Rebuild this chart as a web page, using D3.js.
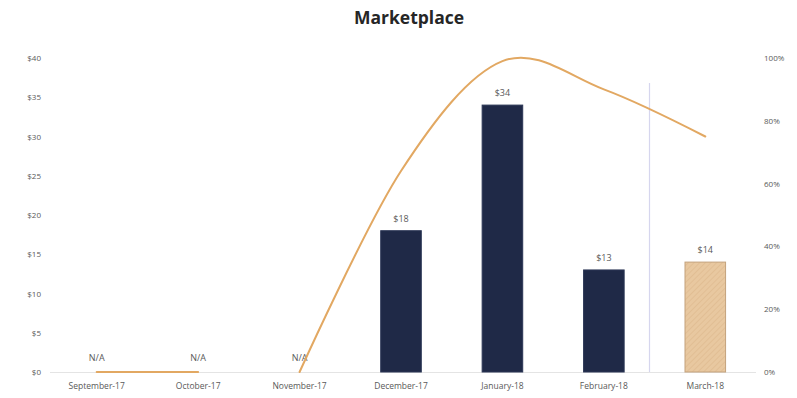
<!DOCTYPE html>
<html>
<head>
<meta charset="utf-8">
<script src="https://cdn.jsdelivr.net/npm/d3@7"></script>
<style>
  html, body { margin: 0; padding: 0; background: #fff; }
  svg { display: block; }
</style>
</head>
<body>
<svg id="chart" width="797" height="398"></svg>
<script>
// Monthly marketplace revenue ($) with share-of-target line (%)
const months = ["September-17", "October-17", "November-17", "December-17", "January-18", "February-18", "March-18"];
const revenue = [null, null, null, 18, 34, 13, 14];
const revenueLabels = ["N/A", "N/A", "N/A", "$18", "$34", "$13", "$14"];
const forecastMonths = ["March-18"];
// percentage line, drawn in two runs (the run breaks after October)
const shareEarly = [0, 0, null, null, null, null, null];
const shareLate = [null, null, 0, 64, 99, 90, 75];
const leftTicks = [0, 5, 10, 15, 20, 25, 30, 35, 40];
const rightTicks = [0, 20, 40, 60, 80, 100];

const svg = d3.select("#chart");
const W = 797, H = 398;
const m = { top: 58, right: 41, bottom: 26, left: 46 };
const innerBottom = H - m.bottom;

const x = d3.scaleBand().domain(months).range([m.left, W - m.right]).paddingInner(0.6).paddingOuter(0.3);
const yL = d3.scaleLinear().domain([0, 40]).range([innerBottom, m.top]);
const yR = d3.scaleLinear().domain([0, 100]).range([innerBottom, m.top]);

const font = "'Open Sans', sans-serif";
const grey = "#595959";

// hatch fill for forecast bar
const defs = svg.append("defs");
const pat = defs.append("pattern").attr("id", "hatch").attr("patternUnits", "userSpaceOnUse")
  .attr("width", 4).attr("height", 4).attr("patternTransform", "rotate(45)");
pat.append("rect").attr("width", 4).attr("height", 4).attr("fill", "#e8c8a0");
pat.append("line").attr("x1", 0).attr("y1", 0).attr("x2", 0).attr("y2", 4)
  .attr("stroke", "#dbb78a").attr("stroke-width", 1.1);

// title
svg.append("text").attr("x", 409).attr("y", 24).attr("text-anchor", "middle")
  .attr("font-family", font).attr("font-weight", 700).attr("font-size", 17.5).attr("fill", "#262626")
  .text("Marketplace");

// left axis
const axL = d3.axisLeft(yL).tickValues(leftTicks).tickSize(0).tickPadding(5).tickFormat(d => "$" + d);
const gL = svg.append("g").attr("transform", `translate(${m.left},0)`).call(axL);
gL.select(".domain").remove();
gL.selectAll("text").attr("font-family", font).attr("font-size", 8).attr("fill", grey);

// right axis
const axR = d3.axisRight(yR).tickValues(rightTicks).tickSize(0).tickPadding(9).tickFormat(d => d + "%");
const gR = svg.append("g").attr("transform", `translate(${W - m.right - 1},0)`).call(axR);
gR.select(".domain").remove();
gR.selectAll("text").attr("font-family", font).attr("font-size", 8).attr("fill", grey);

// baseline
svg.append("line").attr("x1", m.left + 4).attr("x2", W - m.right).attr("y1", innerBottom + 0.5).attr("y2", innerBottom + 0.5)
  .attr("stroke", "#e4e4e4").attr("stroke-width", 1);

// bottom axis labels
const axB = d3.axisBottom(x).tickSize(0).tickPadding(11);
const gB = svg.append("g").attr("transform", `translate(0,${innerBottom})`).call(axB);
gB.select(".domain").remove();
gB.selectAll("text").attr("font-family", font).attr("font-size", 8.5).attr("fill", grey);

// divider before the forecast month
svg.append("line")
  .attr("x1", x(forecastMonths[0]) - x.step() * 0.35).attr("x2", x(forecastMonths[0]) - x.step() * 0.35)
  .attr("y1", yL(36.8)).attr("y2", innerBottom)
  .attr("stroke", "#d6d6ee").attr("stroke-width", 1.2);

// bars
const barData = months.map((mo, i) => ({ mo, v: revenue[i], label: revenueLabels[i] }));
svg.append("g").selectAll("rect").data(barData.filter(d => d.v != null)).join("rect")
  .attr("x", d => x(d.mo)).attr("width", x.bandwidth())
  .attr("y", d => yL(d.v)).attr("height", d => yL(0) - yL(d.v))
  .attr("fill", d => forecastMonths.includes(d.mo) ? "url(#hatch)" : "#1f2947")
  .attr("stroke", d => forecastMonths.includes(d.mo) ? "#c4a27c" : "#2c3756")
  .attr("stroke-width", 1);

// value labels
svg.append("g").selectAll("text").data(barData).join("text")
  .attr("x", d => x(d.mo) + x.bandwidth() / 2)
  .attr("y", d => yL(d.v == null ? 0 : d.v) - (d.v == null ? 11 : 9))
  .attr("text-anchor", "middle").attr("font-family", font).attr("font-size", 9).attr("fill", grey)
  .text(d => d.label);

// share line
const line = d3.line()
  .defined(d => d.v != null)
  .x(d => x(d.mo) + x.bandwidth() / 2)
  .y(d => yR(d.v))
  .curve(d3.curveCardinal.tension(0));
[shareEarly, shareLate].forEach(series => {
  svg.append("path")
    .datum(months.map((mo, i) => ({ mo, v: series[i] })))
    .attr("d", line).attr("fill", "none")
    .attr("stroke", "#e2a862").attr("stroke-width", 2).attr("stroke-linecap", "round");
});
</script>
</body>
</html>
